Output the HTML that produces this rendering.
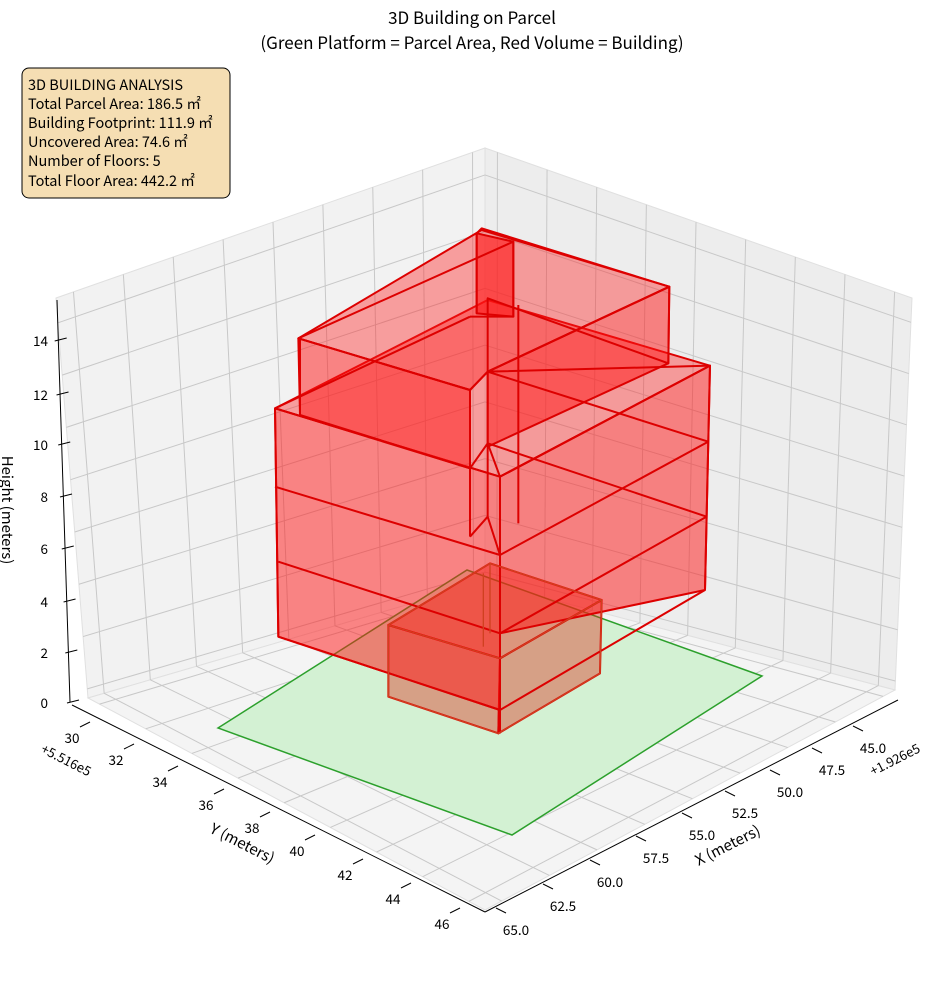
<!DOCTYPE html>
<html><head><meta charset="utf-8"><style>
body{margin:0;background:#fff;}
svg{display:block;font-family:"Noto Sans CJK JP","Liberation Sans","DejaVu Sans",sans-serif;}
</style></head><body>
<svg id="s" width="944" height="992" viewBox="0 0 944 992" xmlns="http://www.w3.org/2000/svg">
<rect width="944" height="992" fill="#fff"/>
<polygon points="56,298 485,148 485,582 88,698" fill="#f2f2f2" stroke="#e0e0e0"/>
<polygon points="485,148 912,298 895,690 485,582" fill="#ededed" stroke="#e0e0e0"/>
<polygon points="88,698 485,582 895,690 485,910" fill="#f4f4f4" stroke="#e0e0e0"/>
<g id="grid" stroke="#c8c8c8" stroke-width="1" fill="none"></g>
<line x1="57" y1="300" x2="70" y2="702" stroke="#000" stroke-width="1"/>
<line x1="72" y1="705" x2="485" y2="912" stroke="#000" stroke-width="1"/>
<line x1="485" y1="912" x2="898" y2="700" stroke="#000" stroke-width="1"/>
<g id="ticks" stroke="#000" stroke-width="1"></g>
<polygon points="218,728 467,570 762,676 512,835" fill="#d3f1d3" stroke="#2ca02c" stroke-width="1.5"/>
<g transform="translate(260,220) scale(0.33333)" stroke="#dd0000" stroke-width="6" stroke-linejoin="round">
 <g fill="rgba(255,20,20,0.5)">
  <polygon points="385,1215 690,1030 1025,1140 720,1315" fill="rgba(230,40,20,0.45)"/>
  <polygon points="385,1215 720,1315 715,1540 385,1430" fill="rgba(220,40,20,0.4)"/>
  <polygon points="720,1315 1025,1140 1020,1360 715,1540" fill="rgba(220,40,20,0.4)"/>
  <polygon points="45,565 683,240 1350,437 720,770" fill="rgba(255,30,30,0.4)"/>
  <polygon points="45,565 720,770 720,1470 55,1250"/>
  <polygon points="720,770 1350,437 1335,1110 720,1240"/>
  <polygon points="115,355 665,30 1228,200 683,455 630,510" fill="rgba(255,30,30,0.4)"/>
  <polygon points="115,355 630,510 630,745 120,585"/>
  <polygon points="683,455 1228,200 1225,430 683,680"/>
  <polygon points="650,40 760,65 760,290 650,280" fill="rgba(255,20,20,0.6)"/>
 </g>
 <g fill="none">
  <polyline points="115,355 630,510 630,950"/>
  <polyline points="115,355 760,65 760,290 630,290"/>
  <polyline points="650,40 665,25 1228,200 1225,430 683,235 683,455"/>
  <line x1="650" y1="40" x2="650" y2="280"/>
  <line x1="1228" y1="200" x2="683" y2="455"/>
  <line x1="120" y1="355" x2="120" y2="585"/>
  <polyline points="45,565 630,745"/>
  <polyline points="45,565 630,290"/>
  <polyline points="683,455 1350,437 1335,1110"/>
  <polyline points="683,455 1345,665"/>
  <polyline points="683,670 1340,890"/>
  <line x1="1350" y1="437" x2="720" y2="770"/>
  <polyline points="630,745 683,670 720,770 720,1540"/>
  <polyline points="630,510 683,455"/>
  <polyline points="45,800 720,1005 1345,665"/>
  <polyline points="55,1025 720,1240 1340,890"/>
  <polyline points="45,565 55,1250 720,1470"/>
  <line x1="683" y1="455" x2="683" y2="890"/>
  <line x1="775" y1="255" x2="775" y2="910"/>
  <line x1="683" y1="890" x2="630" y2="950"/>
  <line x1="683" y1="890" x2="720" y2="1005"/>
  <line x1="1335" y1="1110" x2="720" y2="1470"/>
 </g>
 <g fill="none" stroke="#d04020" stroke-width="4">
  <polyline points="385,1215 690,1030 1025,1140 1020,1360 715,1540 385,1430 385,1215"/>
  <polyline points="385,1215 720,1315 1025,1140"/>
  <line x1="690" y1="1030" x2="690" y2="1240"/>
  <line x1="670" y1="1060" x2="670" y2="1280"/>
 </g>
</g>
<text x="472" y="24" font-size="17" text-anchor="middle">3D Building on Parcel</text>
<text x="472" y="49" font-size="17" text-anchor="middle">(Green Platform = Parcel Area, Red Volume = Building)</text>
<rect x="22" y="68" width="208" height="130" rx="7" fill="#f5deb3" stroke="#000" stroke-width="1"/>
<g font-size="14.5" fill="#000">
<text x="28" y="90">3D BUILDING ANALYSIS</text>
<text x="28" y="109">Total Parcel Area: 186.5 ㎡</text>
<text x="28" y="128">Building Footprint: 111.9 ㎡</text>
<text x="28" y="147">Uncovered Area: 74.6 ㎡</text>
<text x="28" y="166">Number of Floors: 5</text>
<text x="28" y="186">Total Floor Area: 442.2 ㎡</text>
</g>
<g id="labels" font-size="13.5" fill="#000"></g>
<text transform="translate(2,510) rotate(90)" font-size="15" text-anchor="middle">Height (meters)</text>
<text transform="translate(240,848) rotate(27)" font-size="15" text-anchor="middle">Y (meters)</text>
<text transform="translate(730,850) rotate(-27)" font-size="15" text-anchor="middle">X (meters)</text>
<text transform="translate(40,752) rotate(27)" font-size="13">+5.516e5</text>
<text transform="translate(873,776) rotate(-27)" font-size="13">+1.926e5</text>
<script>
const g=document.getElementById('grid'),tk=document.getElementById('ticks'),lb=document.getElementById('labels');
function L(p,q,par){const l=document.createElementNS('http://www.w3.org/2000/svg','line');l.setAttribute('x1',p[0]);l.setAttribute('y1',p[1]);l.setAttribute('x2',q[0]);l.setAttribute('y2',q[1]);par.appendChild(l);}
function T(x,y,s,a){const t=document.createElementNS('http://www.w3.org/2000/svg','text');t.setAttribute('x',x);t.setAttribute('y',y);t.setAttribute('text-anchor',a||'middle');t.textContent=s;lb.appendChild(t);}
function lerp(a,b,t){return [a[0]+(b[0]-a[0])*t,a[1]+(b[1]-a[1])*t];}
const LB=[88,698],BB=[485,582],LT=[56,298],BT=[485,148],RB=[895,690],RT=[912,298],FR=[485,910];
const ys=[];for(let i=0;i<9;i++)ys.push((i+0.25)/8.6);
const xs=[];for(let i=0;i<9;i++)xs.push((i+0.25)/8.6);
const zs=[];for(let i=0;i<8;i++)zs.push((i*2+0.35)/15.3);
ys.forEach(f=>{const t=1-f;L(lerp(LB,BB,t),lerp(LT,BT,t),g);L(lerp(LB,FR,f),lerp(BB,RB,f),g);});
xs.forEach(f=>{const t=1-f;L(lerp(RB,BB,t),lerp(RT,BT,t),g);L(lerp(RB,FR,f),lerp(BB,LB,f),g);});
zs.forEach(f=>{L(lerp(LB,LT,f),lerp(BB,BT,f),g);L(lerp(BB,BT,f),lerp(RB,RT,f),g);});
const zl=[[703,'0'],[653,'2'],[602,'4'],[549,'6'],[497,'8'],[445,'10'],[395,'12'],[341,'14']];
zl.forEach(([y,s])=>{T(48,y+5,s,'end');const x=70-(703-y)*0.034;L([x-3,y],[x+9,y-3],tk);});
const yl=[[72,738,'30'],[116,760,'32'],[160,782,'34'],[206,805,'36'],[252,828,'38'],[297,851,'40'],[345,875,'42'],[393,899,'44'],[442,924,'46']];
yl.forEach(([x,y,s])=>{T(x,y+5,s);L([x+8,y-28+17],[x+18,y-28+12],tk);});
const xl=[[873,748,'45.0'],[832,770,'47.5'],[790,792,'50.0'],[745,813,'52.5'],[702,835,'55.0'],[656,858,'57.5'],[610,882,'60.0'],[563,906,'62.5'],[516,930,'65.0']];
xl.forEach(([x,y,s])=>{T(x,y+5,s);L([x-10,y-17],[x-20,y-22],tk);});
</script>
</svg>
</body></html>
